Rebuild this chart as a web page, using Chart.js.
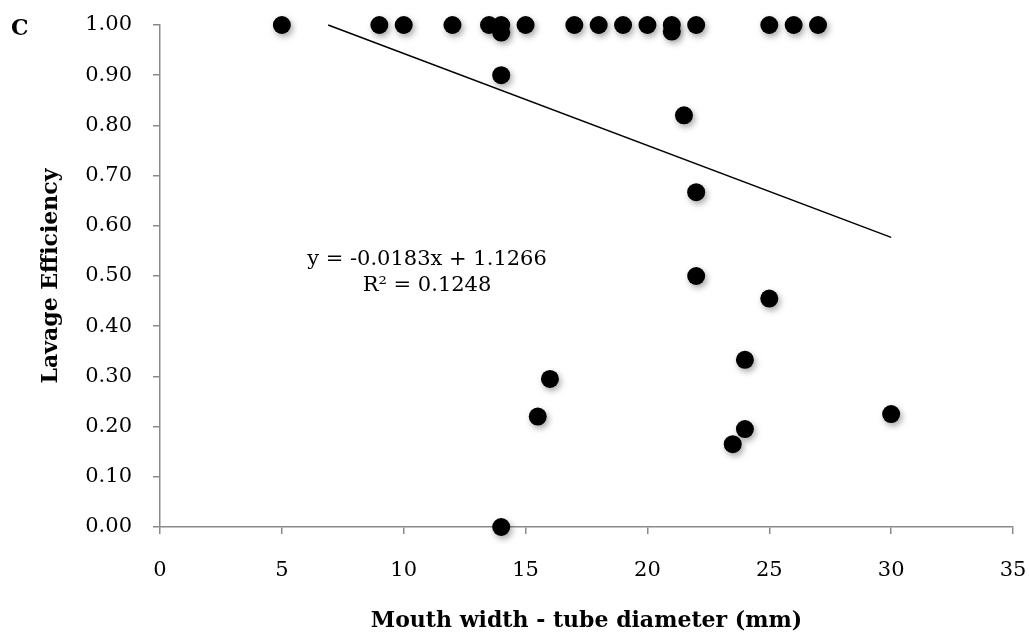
<!DOCTYPE html>
<html>
<head>
<meta charset="utf-8">
<script src="https://cdn.jsdelivr.net/npm/chart.js@4"></script>
<style>
  html, body { margin:0; padding:0; background:#fff; }
  #wrap { position:relative; width:1029px; height:638px; }
  canvas { position:absolute; left:0; top:0; }
  .txt { position:absolute; font-family:"DejaVu Serif", serif; color:#000; white-space:nowrap; line-height:1; }
  #panel { left:11px; top:16px; font-weight:bold; font-size:22px; }
  .eq { font-size:21px; transform:translate(-50%,-50%); }
</style>
</head>
<body>
<div id="wrap">
  <canvas id="c" width="1029" height="638"></canvas>
  <div id="panel" class="txt">C</div>
  <div class="txt eq" style="left:427px; top:258px;">y = -0.0183x + 1.1266</div>
  <div class="txt eq" style="left:427px; top:284px;">R² = 0.1248</div>
</div>
<script>
// Data
const xValues = [5, 9, 10, 12, 13.5, 14, 14, 14, 14, 15, 15.5, 16, 17, 18, 19, 20, 21, 21, 21.5, 22, 22, 22, 23.5, 24, 24, 25, 25, 26, 27, 30];
const yValues = [1.00, 1.00, 1.00, 1.00, 1.00, 1.00, 0.985, 0.90, 0.00, 1.00, 0.22, 0.295, 1.00, 1.00, 1.00, 1.00, 1.00, 0.987, 0.82, 1.00, 0.667, 0.50, 0.165, 0.195, 0.333, 1.00, 0.455, 1.00, 1.00, 0.225];
const trendX = [6.9, 30];
const trendY = [1.00, 0.577];
const xTickMin = 0, xTickMax = 35, xTickStep = 5;
const yTickMin = 0, yTickMax = 1, yTickStep = 0.1;
const xTitle = 'Mouth width - tube diameter (mm)';
const yTitle = 'Lavage Efficiency';

const points = xValues.map((x, i) => ({x: x, y: yValues[i]}));
const trend = trendX.map((x, i) => ({x: x, y: trendY[i]}));

const shadowPlugin = {
  id: 'dotShadow',
  beforeDatasetDraw(chart, args) {
    if (args.index === 1) {
      const ctx = chart.ctx;
      ctx.save();
      ctx.shadowColor = 'rgba(0,0,0,0.35)';
      ctx.shadowBlur = 6;
      ctx.shadowOffsetX = 2;
      ctx.shadowOffsetY = 3;
    }
  },
  afterDatasetDraw(chart, args) {
    if (args.index === 1) chart.ctx.restore();
  }
};

const tickFont = {family: '"DejaVu Serif", serif', size: 21};
const titleFont = {family: '"DejaVu Serif", serif', size: 22, weight: 'bold'};
const axisGray = '#8a8a8a';

new Chart(document.getElementById('c'), {
  type: 'scatter',
  data: {
    datasets: [
      {
        type: 'line',
        label: 'Trend',
        data: trend,
        borderColor: '#000',
        borderWidth: 1.5,
        pointRadius: 0,
        fill: false,
        clip: false
      },
      {
        label: 'Lavage Efficiency',
        data: points,
        backgroundColor: '#000',
        borderColor: '#000',
        borderWidth: 0,
        pointRadius: 9,
        pointHoverRadius: 9,
        clip: false
      }
    ]
  },
  options: {
    responsive: false,
    animation: false,
    events: [],
    layout: { padding: {top: 25, right: 16, bottom: 0, left: 0} },
    plugins: {
      legend: { display: false },
      tooltip: { enabled: false },
      title: { display: false }
    },
    scales: {
      x: {
        type: 'linear',
        min: xTickMin, max: xTickMax,
        ticks: { stepSize: xTickStep, font: tickFont, color: '#000', padding: 24 },
        grid: { drawOnChartArea: false, drawTicks: true, tickLength: 7, color: axisGray, lineWidth: 1.5 },
        border: { display: true, color: axisGray, width: 1.5 },
        title: { display: true, text: xTitle, font: titleFont, color: '#000', padding: {top: 0, bottom: 4} },
        afterFit(scale) { scale.height = 111; scale.paddingLeft = 0; scale.paddingRight = 0; }
      },
      y: {
        type: 'linear',
        min: yTickMin, max: yTickMax,
        ticks: { stepSize: yTickStep, font: tickFont, color: '#000', padding: 21,
                 callback: (v) => Number(v).toFixed(2) },
        grid: { drawOnChartArea: false, drawTicks: true, tickLength: 7, color: axisGray, lineWidth: 1.5 },
        border: { display: true, color: axisGray, width: 1.5 },
        title: { display: true, text: yTitle, font: titleFont, color: '#000', padding: {top: 38, bottom: 0} },
        afterFit(scale) { scale.width = 160; scale.paddingTop = 0; scale.paddingBottom = 0; }
      }
    }
  },
  plugins: [shadowPlugin]
});
</script>
</body>
</html>
